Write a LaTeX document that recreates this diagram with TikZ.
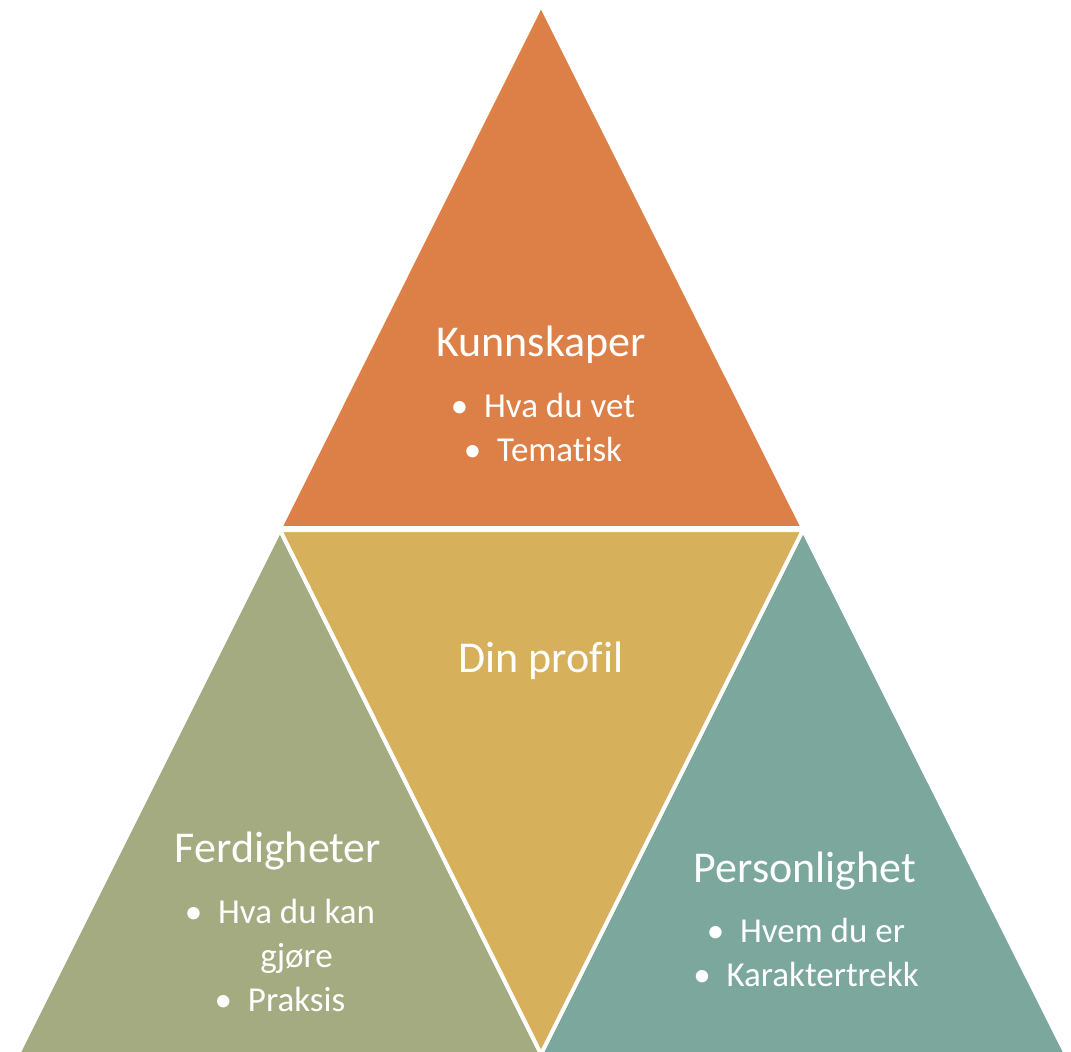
\documentclass[tikz,border=0pt]{standalone}
\usepackage{fontspec}
\setmainfont{Carlito}[Ligatures=CommonOff]
\definecolor{kunnskap}{HTML}{DD8047}
\definecolor{profil}{HTML}{D7B05C}
\definecolor{ferdighet}{HTML}{A5AB81}
\definecolor{person}{HTML}{7BA79D}
\newcommand{\pkt}{\textbullet\hspace{0.45em}}
\tikzset{
    tri/.style={draw=white, line width=4pt, line join=miter},
    title/.style={text=white, font=\fontsize{44}{52}\selectfont, inner sep=0pt},
    punkt/.style={text=white, font=\fontsize{35}{44}\selectfont, align=center, inner sep=0pt},
}

\begin{document}
\begin{tikzpicture}[x=1pt,y=-1pt]
\useasboundingbox (0,0) rectangle (1071,1052);
\fill[white] (0,0) rectangle (1071,1052);
% triangles
\filldraw[tri, fill=kunnskap] (541,5)--(803,528)--(280,528)--cycle;
\filldraw[tri, fill=ferdighet] (280,530)--(541,1054)--(18,1054)--cycle;
\filldraw[tri, fill=person] (803,530)--(1066,1054)--(541,1054)--cycle;
\filldraw[tri, fill=profil] (280,530)--(803,530)--(541,1054)--cycle;
% texts
\node[title] (kunn) at (541,345) {Kunnskaper};
\node[punkt, anchor=north] (kunnpkt) at (543,393) {\pkt Hva du vet\\\pkt Tematisk};
\node[title] (profil) at (541,661) {Din profil};
\node[title] (ferd) at (278,851) {Ferdigheter};
\node[punkt, anchor=north] (ferdpkt) at (280,899) {\pkt Hva du kan\\\phantom{\pkt}gjøre\\\pkt Praksis};
\node[title] (pers) at (805,871) {Personlighet};
\node[punkt, anchor=north] (perspkt) at (806,918) {\pkt Hvem du er\\\pkt Karaktertrekk};
\end{tikzpicture}
\end{document}
